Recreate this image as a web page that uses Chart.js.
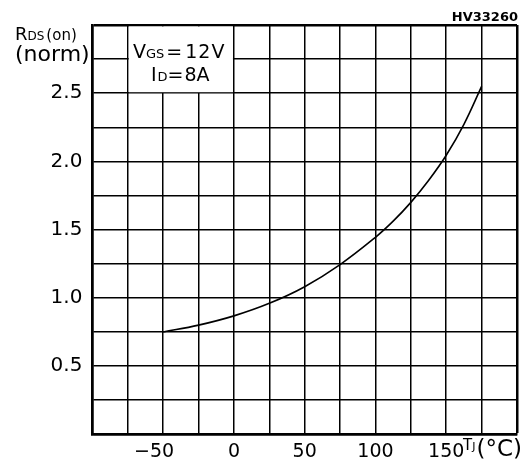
<!DOCTYPE html>
<html>
<head>
<meta charset="utf-8">
<script src="https://cdn.jsdelivr.net/npm/chart.js@4.4.0/dist/chart.umd.min.js"></script>
<style>
  body { margin: 0; background: #fff; }
  #wrap { width: 532px; height: 464px; }
</style>
</head>
<body>
<div id="wrap"><canvas id="rdsChart" width="532" height="464"></canvas></div>
<script>
// temperature (deg C) and normalised RDS(on)
const tempC = [-50, -25, 0, 25, 50, 75, 100, 112.5, 125, 137.5, 150, 162.5, 175];
const rdsNorm = [0.75, 0.80, 0.868, 0.96, 1.082, 1.244, 1.444, 1.562, 1.70, 1.86, 2.045, 2.272, 2.55];
const xTickLabels = [-50, 0, 50, 100, 150];
const yTickLabels = [0.5, 1.0, 1.5, 2.0, 2.5];

const FONT = '"DejaVu Sans", sans-serif';

// draw text pieces of different sizes one after another
function drawRuns(ctx, x, y, runs) {
    runs.forEach(r => {
        ctx.font = (r.bold ? 'bold ' : '') + r.size + 'px ' + FONT;
        ctx.fillText(r.text, x, y + (r.dy || 0));
        x += ctx.measureText(r.text).width + (r.gap || 0);
    });
}

//Labels, condition box and part number
const labelsPlugin = {
    id: 'labels',
    afterDraw(chart) {
        const ctx = chart.ctx;
        const xs = chart.scales.x, ys = chart.scales.y;
        ctx.save();
        // white box over the grid for the test conditions
        const bx1 = xs.getPixelForValue(-75), bx2 = xs.getPixelForValue(0);
        const by1 = ys.getPixelForValue(3), by2 = ys.getPixelForValue(2.5);
        ctx.fillStyle = '#fff';
        ctx.fillRect(bx1 + 1, by1 + 1.5, bx2 - bx1 - 2, by2 - by1 - 2.5);
        ctx.fillStyle = '#000';
        ctx.textBaseline = 'alphabetic';
        ctx.textAlign = 'left';
        drawRuns(ctx, 133, 58, [
            { text: 'V', size: 19 }, { text: 'GS', size: 13, gap: 2 }, { text: '=', size: 19, gap: 3 },
            { text: '1', size: 19, gap: 1 }, { text: '2', size: 19, gap: 1 }, { text: 'V', size: 19 }
        ]);
        drawRuns(ctx, 151, 81, [
            { text: 'I', size: 19, gap: 1 }, { text: 'D', size: 13 }, { text: '=', size: 19, gap: 1 },
            { text: '8', size: 19 }, { text: 'A', size: 19 }
        ]);
        // y axis title
        drawRuns(ctx, 15, 40, [
            { text: 'R', size: 18 }, { text: 'DS', size: 12, gap: 2 }, { text: '(on)', size: 15 }
        ]);
        drawRuns(ctx, 15, 61, [{ text: '(norm)', size: 22 }]);
        // x axis title
        drawRuns(ctx, 463, 450, [
            { text: 'T', size: 15 }, { text: 'J', size: 11, gap: 1 }, { text: '(°C)', size: 23, dy: 6 }
        ]);
        // part number
        ctx.textAlign = 'right';
        ctx.font = 'bold 13px ' + FONT;
        ctx.fillText('HV33260', 518, 21);
        ctx.restore();
    }
};

const points = tempC.map((t, i) => ({ x: t, y: rdsNorm[i] }));

const ctx = document.getElementById('rdsChart').getContext('2d');
const rdsChart = new Chart(ctx, {
    type: 'line',
    data: {
        datasets: [{
            data: points,
            borderColor: '#000',
            borderWidth: 1.6,
            pointRadius: 0,
            fill: false,
            tension: 0.4
        }]
    },
    options: {
        responsive: false,
        animation: false,
        layout: { padding: { left: 0, top: 25, right: 15, bottom: 0 } },
        plugins: { legend: { display: false }, tooltip: { enabled: false } },
        scales: {
            x: {
                type: 'linear',
                min: -100,
                max: 200,
                afterFit: s => { s.height = 29.7; },
                ticks: {
                    stepSize: 25,
                    autoSkip: false,
                    maxRotation: 0,
                    padding: 6,
                    color: '#000',
                    font: { family: FONT, size: 19 },
                    // the minus sign hangs left of the tick, as on the datasheet
                    callback: v => !xTickLabels.includes(v) ? '' : (v < 0 ? '\u2212' + (-v) + '   ' : String(v))
                },
                grid: {
                    color: '#000',
                    lineWidth: c => (c.tick && c.tick.value === 200) ? 2.5 : 1.5,
                    drawTicks: false
                },
                border: { color: '#000', width: 2.5 }
            },
            y: {
                min: 0,
                max: 3,
                afterFit: s => { s.width = 92.4; },
                ticks: {
                    stepSize: 0.25,
                    autoSkip: false,
                    padding: 10,
                    color: '#000',
                    font: { family: FONT, size: 20 },
                    callback: v => yTickLabels.includes(v) ? v.toFixed(1) : ''
                },
                grid: {
                    color: '#000',
                    lineWidth: c => (c.tick && c.tick.value === 3) ? 2.5 : 1.5,
                    drawTicks: false
                },
                border: { color: '#000', width: 2.5 }
            }
        }
    },
    plugins: [labelsPlugin]
});
</script>
</body>
</html>
